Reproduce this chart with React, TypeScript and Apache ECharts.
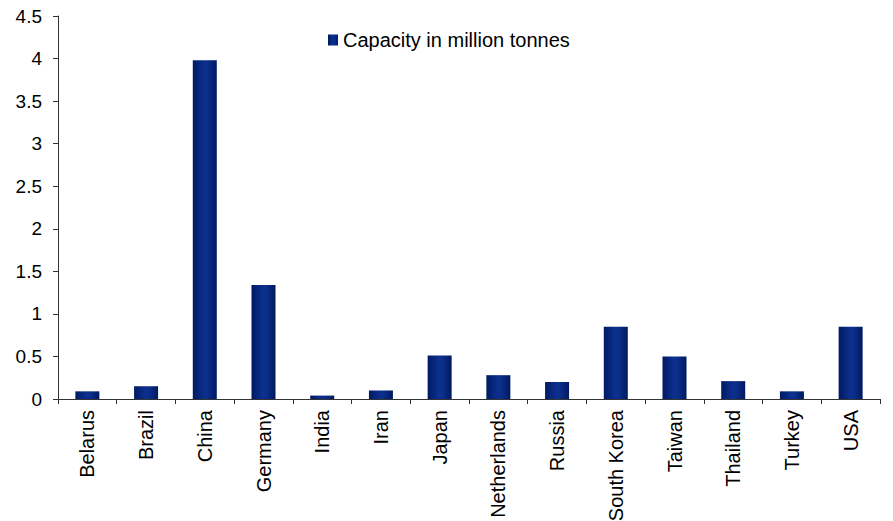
import React, { useEffect, useRef } from "react";
import * as echarts from "echarts";

const categories = ["Belarus", "Brazil", "China", "Germany", "India", "Iran", "Japan", "Netherlands", "Russia", "South Korea", "Taiwan", "Thailand", "Turkey", "USA"];
const capacity = [0.09, 0.15, 3.98, 1.34, 0.04, 0.1, 0.51, 0.28, 0.2, 0.85, 0.5, 0.21, 0.09, 0.85];
const seriesName = "Capacity in million tonnes";

export default function App() {
  const ref = useRef<HTMLDivElement>(null);
  useEffect(() => {
    if (!ref.current) return;
    const chart = echarts.init(ref.current, null, { renderer: "svg" });
    const grad = new echarts.graphic.LinearGradient(0, 0, 1, 0, [
      { offset: 0, color: "#001a63" },
      { offset: 0.45, color: "#0c2f8c" },
      { offset: 0.6, color: "#0c2f8c" },
      { offset: 1, color: "#001a60" },
    ]);
    const font = "Liberation Sans, Arial, sans-serif";
    chart.setOption({
      animation: false,
      textStyle: { fontFamily: font },
      legend: {
        data: [seriesName],
        left: 328,
        top: 30,
        itemWidth: 10,
        itemHeight: 11,
        itemGap: 4,
        icon: "rect",
        padding: 0,
        textStyle: { fontSize: 20, color: "#000", fontFamily: font, padding: [0, 0, 0, 0] },
      },
      grid: { left: 58, right: 13, top: 16, bottom: 122, containLabel: false, outerBoundsMode: "none" },
      xAxis: {
        type: "category",
        data: categories,
        boundaryGap: true,
        axisLine: { lineStyle: { color: "#333", width: 1 } },
        axisTick: { show: true, length: 5, inside: false, alignWithLabel: false, lineStyle: { color: "#333" } },
        axisLabel: { rotate: 90, fontSize: 20, color: "#000", margin: 11, interval: 0, fontFamily: font },
      },
      yAxis: {
        type: "value",
        min: 0,
        max: 4.5,
        interval: 0.5,
        axisLine: { show: true, lineStyle: { color: "#333", width: 1 } },
        axisTick: { show: true, length: 5, lineStyle: { color: "#333" } },
        splitLine: { show: false },
        axisLabel: { fontSize: 19, color: "#000", margin: 16, fontFamily: font },
      },
      series: [
        {
          name: seriesName,
          type: "bar",
          data: capacity,
          barWidth: 24,
          itemStyle: { color: grad },
        },
      ],
    });
    return () => chart.dispose();
  }, []);
  return <div ref={ref} style={{ width: 893, height: 521, position: "absolute", left: 0, top: 0 }} />;
}
